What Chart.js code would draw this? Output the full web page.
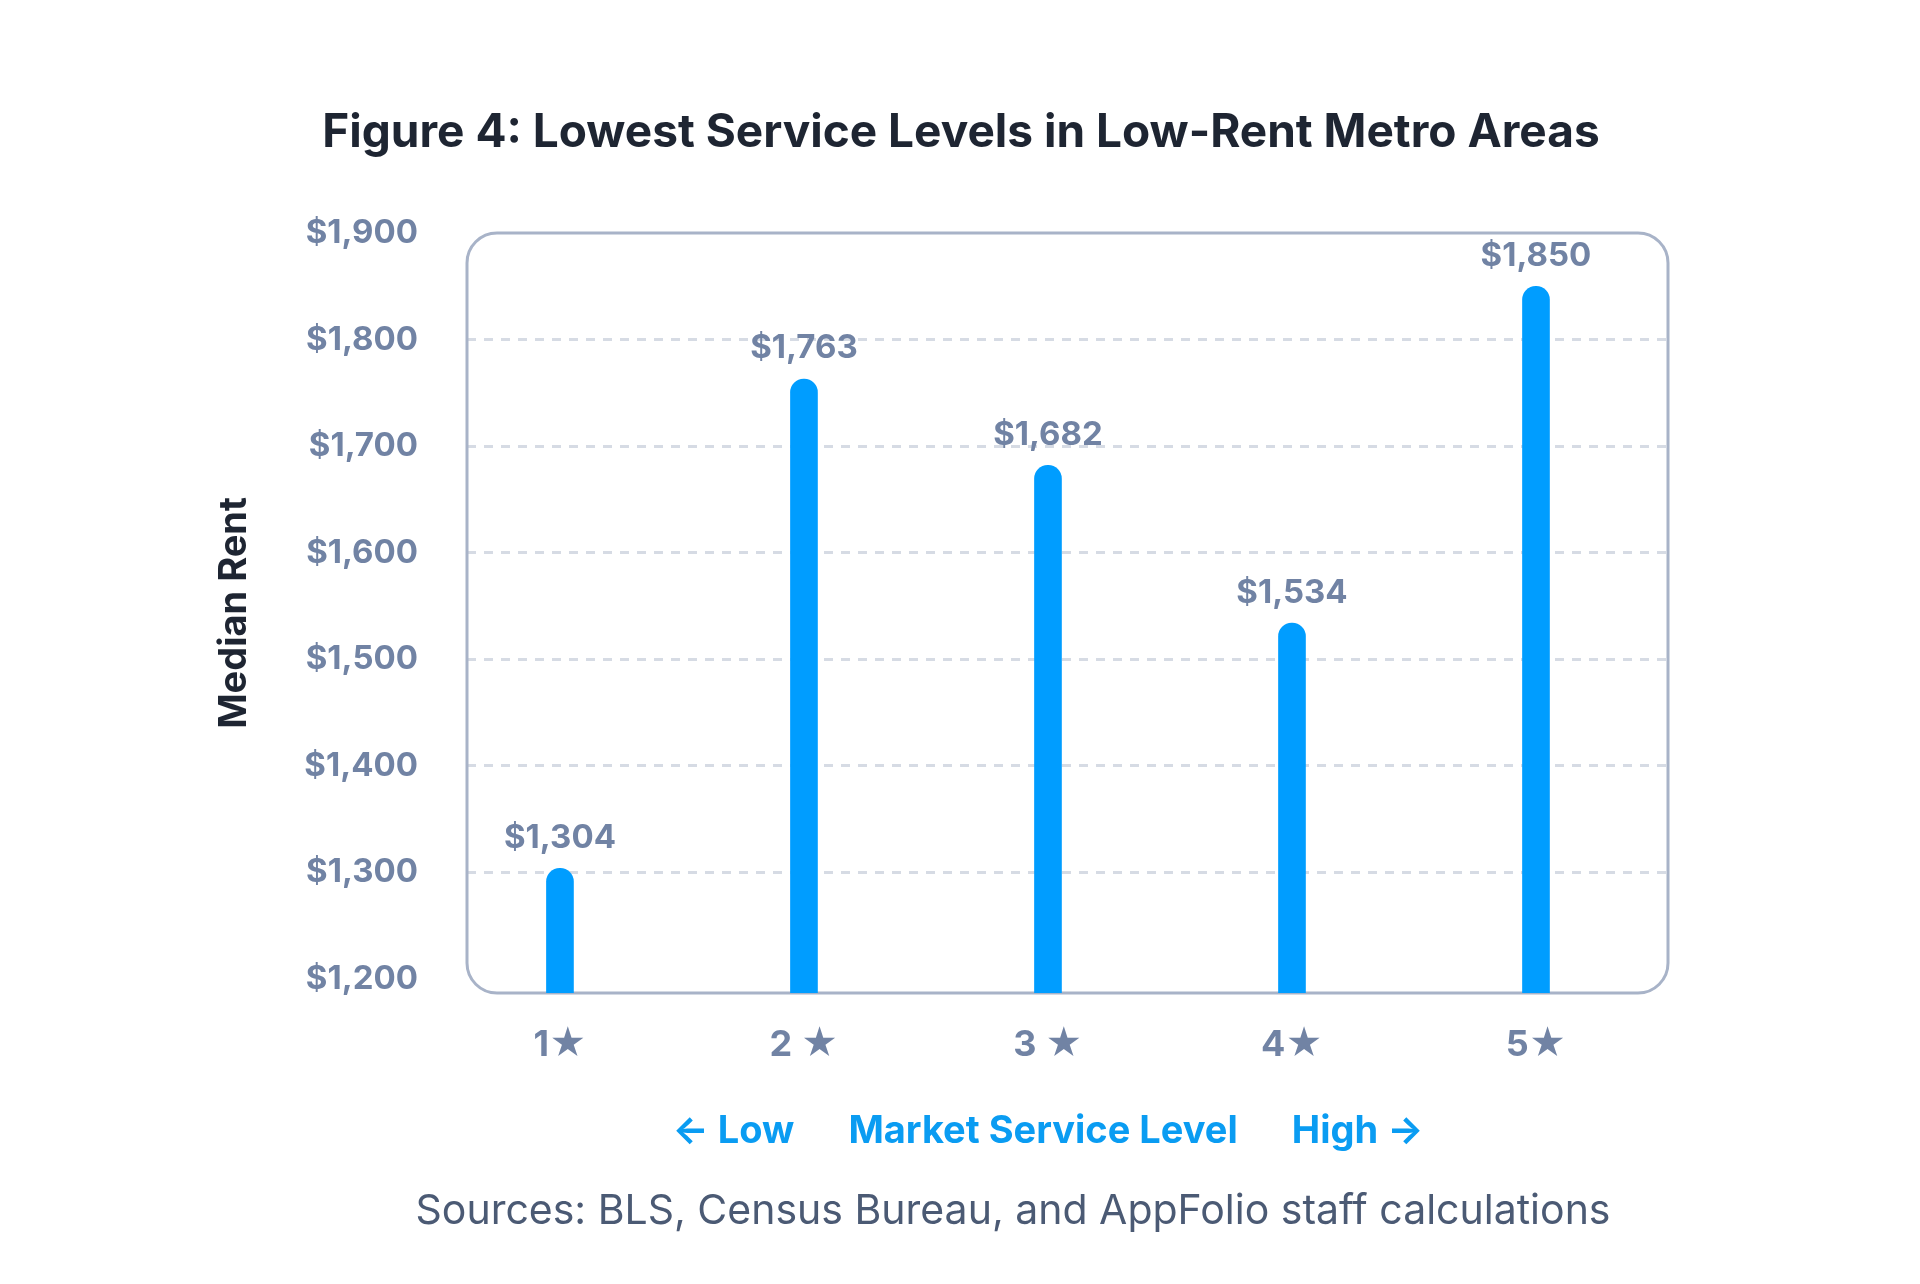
<!DOCTYPE html>
<html>
<head>
<meta charset="utf-8">
<script src="https://cdn.jsdelivr.net/npm/chart.js@4.4.1/dist/chart.umd.min.js"></script>
<style>
  html, body { margin: 0; padding: 0; background: #ffffff; }
  #wrap { width: 1920px; height: 1284px; position: relative; }
</style>
</head>
<body>
<div id="wrap"><canvas id="rentChart" width="1920" height="1284"></canvas></div>
<script>
// Chart data
const serviceLevels = ['1★', '2 ★', '3 ★', '4★', '5★'];
const medianRent = [1304, 1763, 1682, 1534, 1850];
const rentTicks = [1200, 1300, 1400, 1500, 1600, 1700, 1800, 1900];

const chartTitle = 'Figure 4: Lowest Service Levels in Low-Rent Metro Areas';
const axisCaption = '← Low      Market Service Level      High →';
const sourceNote = 'Sources: BLS, Census Bureau, and AppFolio staff calculations';

const FONT = "Inter, 'Liberation Sans', 'DejaVu Sans', sans-serif";
const slate = '#7183a4';
const blue = '#009dff';

// Rounded frame round the plot area
const framePlugin = {
    id: 'frame',
    beforeDatasetsDraw(chart) {
        const { ctx, chartArea: a } = chart;
        ctx.save();
        ctx.strokeStyle = '#a8b3c8';
        ctx.lineWidth = 3;
        ctx.beginPath();
        ctx.roundRect(a.left, a.top, a.right - a.left, a.bottom - a.top, 30);
        ctx.stroke();
        ctx.restore();
    }
};

// Value labels above each bar
const valueLabels = {
    id: 'valueLabels',
    afterDatasetsDraw(chart) {
        const { ctx } = chart;
        const meta = chart.getDatasetMeta(0);
        ctx.save();
        ctx.font = `bold 33px ${FONT}`;
        ctx.fillStyle = slate;
        ctx.textAlign = 'center';
        ctx.textBaseline = 'bottom';
        meta.data.forEach((bar, i) => {
            ctx.fillText('$' + medianRent[i].toLocaleString('en-US'), bar.x, bar.y - 14);
        });
        ctx.restore();
    }
};

// Title, axis caption and source line
const captions = {
    id: 'captions',
    afterDraw(chart) {
        const { ctx, scales } = chart;
        const xMid = scales.x.getPixelForValue(3);
        ctx.save();
        ctx.textAlign = 'center';
        ctx.textBaseline = 'alphabetic';

        ctx.font = `bold 46px ${FONT}`;
        ctx.fillStyle = '#1e2532';
        ctx.fillText(chartTitle, 961, 147);

        ctx.font = `bold 38px ${FONT}`;
        ctx.fillStyle = '#0a9cf2';
        ctx.fillText(axisCaption, xMid, 1143);

        ctx.font = `41px ${FONT}`;
        ctx.fillStyle = '#4b5a74';
        ctx.fillText(sourceNote, 1013, 1224);
        ctx.restore();
    }
};

const ctx = document.getElementById('rentChart').getContext('2d');
const rentChart = new Chart(ctx, {
    type: 'bar',
    data: {
        datasets: [{
            data: medianRent.map((v, i) => ({ x: i + 1, y: v })),
            backgroundColor: blue,
            barThickness: 27,
            borderRadius: { topLeft: 14, topRight: 14, bottomLeft: 0, bottomRight: 0 },
            borderSkipped: 'start'
        }]
    },
    options: {
        responsive: false,
        devicePixelRatio: 1,
        animation: false,
        layout: { padding: { left: 190, right: 252, top: 233, bottom: 110 } },
        plugins: {
            legend: { display: false },
            tooltip: { enabled: false }
        },
        scales: {
            x: {
                type: 'linear',
                offset: false,
                min: 0.619,
                max: 5.541,
                grid: { display: false, drawTicks: false, offset: false },
                border: { display: false },
                afterBuildTicks: (s) => { s.ticks = serviceLevels.map((_, i) => ({ value: i + 1 })); },
                afterFit: (s) => { s.height = 181; },
                ticks: {
                    padding: 31,
                    color: slate,
                    font: { family: FONT, size: 36, weight: 'bold' },
                    callback: (v) => serviceLevels[v - 1]
                }
            },
            y: {
                min: 1187,
                max: 1900,
                afterBuildTicks: (s) => { s.ticks = rentTicks.map(v => ({ value: v })); },
                afterFit: (s) => { s.width = 277; },
                grid: {
                    drawTicks: false,
                    lineWidth: 3,
                    color: (c) => (c.tick && (c.tick.value === 1200 || c.tick.value === 1900)) ? 'rgba(0,0,0,0)' : '#d6dbe4'
                },
                border: { display: false, dash: [9, 8] },
                ticks: {
                    padding: 49,
                    color: slate,
                    font: { family: FONT, size: 33, weight: 'bold' },
                    callback: (v) => '$' + v.toLocaleString('en-US')
                },
                title: {
                    display: true,
                    text: 'Median Rent',
                    color: '#1e2532',
                    font: { family: FONT, size: 38, weight: 'bold' },
                    padding: { top: 22, bottom: 0 }
                }
            }
        }
    },
    plugins: [framePlugin, valueLabels, captions]
});
</script>
</body>
</html>
